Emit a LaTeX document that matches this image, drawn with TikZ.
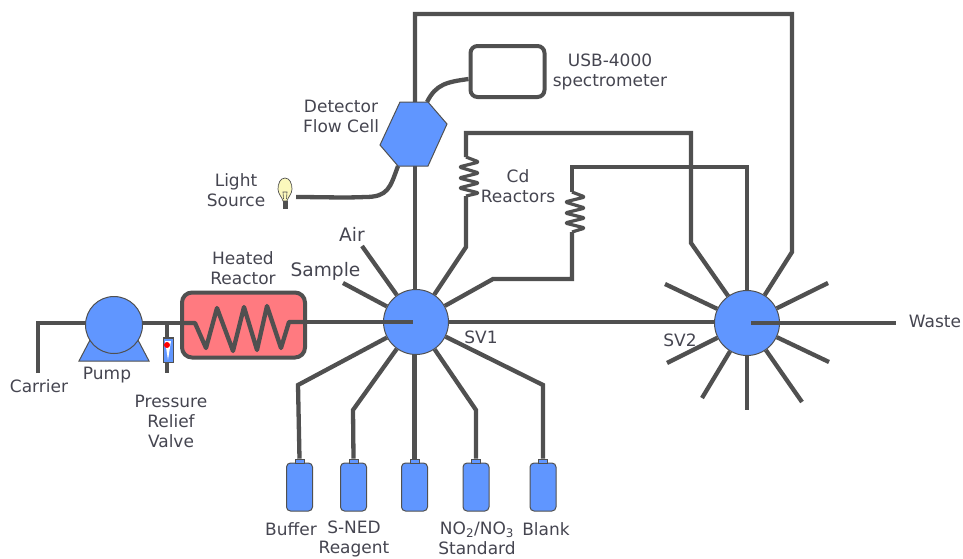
\documentclass[tikz,border=0pt]{standalone}
\usepackage{fontspec}
\setmainfont{DejaVu Sans}
\definecolor{pipegray}{HTML}{505050}
\definecolor{textgray}{HTML}{454550}
\definecolor{partblue}{HTML}{6096FF}
\definecolor{heatred}{HTML}{FF7A80}
\definecolor{bulbyellow}{HTML}{FBF8BC}
\tikzset{
  pipe/.style={line width=4.3pt, draw=pipegray},
  coil/.style={line width=3.2pt, draw=pipegray, rounded corners=1.5pt, line join=round},
  part/.style={fill=partblue, draw=pipegray, line width=1pt},
  valve/.style={circle, part, minimum size=65pt, inner sep=0},
  bottle/.style={rectangle, part, rounded corners=4pt, minimum width=26pt, minimum height=48pt, inner sep=0},
  neck/.style={rectangle, part, line width=0.6pt, minimum width=9pt, minimum height=4pt, inner sep=0},
  lbl/.style={text=textgray, inner sep=0, align=center, font=\fontsize{17}{20}\selectfont},
  biglbl/.style={lbl, font=\fontsize{18.6}{20}\selectfont}
}
\begin{document}
\begin{tikzpicture}[x=1pt, y=-1pt]
  \useasboundingbox (0,0) rectangle (963,558);

  % valves
  \node[valve] (SV1) at (416,322) {};
  \node[valve] (SV2) at (747,323) {};

  % bottles
  \node[bottle] (buffer) at (299.5,487) {};
  \node[neck] (bufferNeck) at (299.5,461) {};
  \node[bottle] (sned) at (353.5,487) {};
  \node[neck] (snedNeck) at (353.5,461) {};
  \node[bottle] (unnamed) at (414.5,487) {};
  \node[neck] (unnamedNeck) at (414.5,461) {};
  \node[bottle] (standard) at (476,487) {};
  \node[neck] (standardNeck) at (476,461) {};
  \node[bottle] (blank) at (543,487) {};
  \node[neck] (blankNeck) at (543,461) {};

  % bends and free ends
  \coordinate (carrierEnd) at (38,373);
  \coordinate (carrierBend) at (38,323);
  \coordinate (pumpIn) at (90,323);
  \coordinate (reliefTop) at (167,323);
  \coordinate (reliefEnd) at (167,373);
  \coordinate (reactorIn) at (182,323);
  \coordinate (reactorOut) at (305,322);
  \coordinate (SV1in) at (413,322);
  \coordinate (SV2in) at (751,323);
  \coordinate (wasteEnd) at (896,323);
  \coordinate (airEnd) at (362,246);
  \coordinate (sampleEnd) at (343,283);
  \coordinate (cellTop) at (415,102);
  \coordinate (cellBottom) at (415,166);
  \coordinate (cellTopRight) at (427,102);
  \coordinate (cellBottomLeft) at (398,166);
  \coordinate (loopCorner) at (415,14);
  \coordinate (loopRight) at (792,14);
  \coordinate (loopDown) at (792,252);
  \coordinate (cdOneLow) at (466,247);
  \coordinate (cdOneTop) at (466,133);
  \coordinate (cdOneRight) at (691,133);
  \coordinate (cdOneDown) at (691,243);
  \coordinate (cdTwoOut) at (493,279);
  \coordinate (cdTwoLow) at (572,279);
  \coordinate (cdTwoTop) at (572,167);
  \coordinate (cdTwoRight) at (747,167);
  \coordinate (bufferBend) at (298,385);
  \coordinate (snedBend) at (353,410);
  \coordinate (standardBend) at (476,410);
  \coordinate (blankBend) at (543,385);

  % main line
  \draw[pipe] (carrierEnd) -- (carrierBend) -- (pumpIn);
  \draw[pipe] (pumpIn) -- (reactorIn);
  \draw[pipe] (reliefTop) -- (reliefEnd);
  \draw[pipe] (reactorOut) -- (SV1in);
  \draw[pipe] (SV1) -- (SV1 -| SV2.west);
  \draw[pipe] (SV2in) -- (wasteEnd);

  % SV1 ports
  \draw[pipe] (SV1) -- (airEnd);
  \draw[pipe] (SV1) -- (sampleEnd);
  \draw[pipe] (SV1) -- (bufferBend) -- (bufferNeck.north);
  \draw[pipe] (SV1) -- (snedBend) -- (snedNeck.north);
  \draw[pipe] (SV1.south -| unnamedNeck) -- (unnamedNeck.north);
  \draw[pipe] (SV1) -- (standardBend) -- (standardNeck.north);
  \draw[pipe] (SV1) -- (blankBend) -- (blankNeck.north);

  % loop through the flow cell
  \draw[pipe] (SV1.north -| cellBottom) -- (cellBottom);
  \draw[pipe] (cellTop) -- (loopCorner) -- (loopRight) -- (loopDown) -- (SV2);

  % Cd reactors
  \draw[pipe] (SV1) -- (cdOneLow) -- (466,196);
  \draw[coil] (466,196) -- (479,193) -- (459,188) -- (479,183) -- (459,178) -- (479,173) -- (459,167) -- (479,162) -- (466,157);
  \draw[pipe] (466,157) -- (cdOneTop) -- (cdOneRight) -- (cdOneDown) -- (SV2);
  \draw[pipe] (SV1) -- (cdTwoOut) -- (cdTwoLow) -- (572,232);
  \draw[coil] (572,232) -- (585,228) -- (565,223) -- (585,218) -- (565,213) -- (585,208) -- (565,202) -- (585,197) -- (572,192);
  \draw[pipe] (572,192) -- (cdTwoTop) -- (cdTwoRight) -- (SV2);

  % SV2 free ports
  \draw[pipe] (SV2) -- (665,284);
  \draw[pipe] (SV2) -- (828,283);
  \draw[pipe] (SV2) -- (667,363);
  \draw[pipe] (SV2) -- (829,362);
  \draw[pipe] (SV2) -- (702,398);
  \draw[pipe] (SV2) -- (802,402);
  \draw[pipe] (SV2) -- (747,410);

  % pump
  \draw[part] (79,361) -- (90,340) -- (138,340) -- (149,361) -- cycle;
  \node[circle, part, minimum size=57pt, inner sep=0] (pump) at (114,325) {};

  % relief valve
  \node[rectangle, part, minimum width=10pt, minimum height=25pt, inner sep=0] (relief) at (168,349.5) {};
  \fill[white] (165,341) -- (171,341) -- (168,360) -- cycle;
  \fill[red] (167,345) circle (3);
  \draw[pipegray, line width=2pt] (163,338) -- (173,338);

  % heated reactor
  \node[rectangle, rounded corners=10pt, fill=heatred, draw=pipegray, line width=4pt, minimum width=123pt, minimum height=65pt, inner sep=0] (reactor) at (243.5,325) {};
  \draw[pipe, line join=round] (reactorIn) -- (195,323) -- (206,348) -- (217,308) -- (233,351) -- (244,307) -- (257,350) -- (267,306) -- (281,348) -- (289,322) -- (reactorOut);

  % flow cell, light source, spectrometer
  \draw[pipe] (cellBottomLeft) .. controls (390,188) and (388,197) .. (365,197) .. controls (345,198) and (320,197) .. (296,197);
  \node[rectangle, rounded corners=7pt, fill=white, draw=pipegray, line width=4pt, minimum width=74pt, minimum height=51pt, inner sep=0] (spectrometer) at (507.5,71.5) {};
  \draw[pipe] (cellTopRight) .. controls (436,84) and (447,82) .. (spectrometer.west |- 0,79);
  \draw[part] (400,102) -- (428,102) -- (447,124) -- (428,166) -- (398,166) -- (380,145) -- cycle;

  % bulb
  \draw[fill=bulbyellow, draw=pipegray, line width=0.7pt] (285,178) .. controls (280,178) and (278,184) .. (278,189) .. controls (278,194) and (282,197) .. (283,201) -- (287,201) .. controls (288,197) and (292,194) .. (292,189) .. controls (292,184) and (290,178) .. (285,178) -- cycle;
  \draw[pipegray, line width=0.6pt] (283.5,199) -- (283,192) -- (287,192) -- (286.5,199);
  \fill[pipegray] (282.5,201) rectangle (287.5,209);

  % labels
  \node[lbl] (carrierLabel) at (39,386) {Carrier};
  \node[lbl] (pumpLabel) at (107,375) {Pump};
  \node[lbl] (reliefLabel) at (171,421) {Pressure\\Relief\\Valve};
  \node[lbl] (reactorLabel) at (243,268) {Heated\\Reactor};
  \node[biglbl] (sampleLabel) at (325.5,271) {Sample};
  \node[biglbl] (airLabel) at (352,234) {Air};
  \node[lbl] (lightLabel) at (236,190) {Light\\Source};
  \node[lbl] (cellLabel) at (341,116) {Detector\\Flow Cell};
  \node[lbl] (usbLabel) at (610,72) {USB-4000\\spectrometer};
  \node[lbl] (cdLabel) at (518,186.5) {Cd\\Reactors};
  \node[lbl] (sv1Label) at (481,337) {SV1};
  \node[lbl] (sv2Label) at (680,340) {SV2};
  \node[lbl] (wasteLabel) at (935,321) {Waste};
  \node[lbl] (bufferLabel) at (291,529) {Buffer};
  \node[lbl] (snedLabel) at (354,538.5) {S-NED\\Reagent};
  \node[lbl] (standardLabel) at (477,538) {NO\textsubscript{2}/NO\textsubscript{3}\\Standard};
  \node[lbl] (blankLabel) at (546,529) {Blank};
\end{tikzpicture}
\end{document}
